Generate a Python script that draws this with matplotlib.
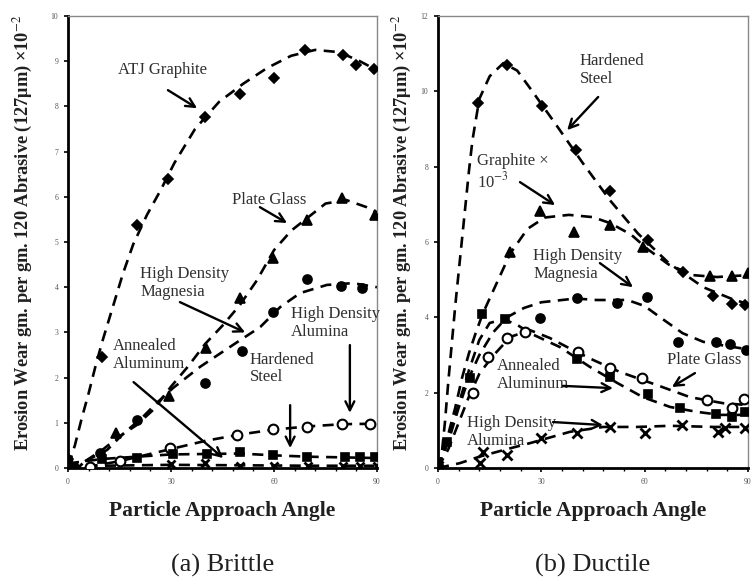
import matplotlib
matplotlib.use("Agg")
import matplotlib.pyplot as plt
from matplotlib.ticker import MultipleLocator

plt.rcParams['font.family'] = ['Liberation Serif', 'DejaVu Serif']
plt.rcParams['mathtext.fontset'] = 'stix'

# ---------------- (a) Brittle : markers ----------------
b_atj_x = [0, 10, 20, 29, 40, 50, 60, 69, 80, 84, 89]
b_atj_y = [0.2, 2.46, 5.38, 6.39, 7.77, 8.27, 8.62, 9.25, 9.14, 8.92, 8.82]
b_glass_x = [0.6, 14, 29.4, 40.3, 50.1, 59.7, 69.6, 79.8, 89.4]
b_glass_y = [0.13, 0.77, 1.6, 2.66, 3.76, 4.65, 5.49, 5.97, 5.6]
b_mag_x = [9.3, 20.1, 39.9, 50.7, 59.7, 69.6, 79.5, 85.6]
b_mag_y = [0.33, 1.06, 1.88, 2.59, 3.45, 4.18, 4.03, 3.98]
b_alu_x = [6.4, 15.1, 29.7, 49.2, 59.7, 69.6, 79.8, 88]
b_alu_y = [0.02, 0.15, 0.44, 0.73, 0.86, 0.91, 0.97, 0.97]
b_steel_x = [0, 10, 20, 30.6, 40.5, 50.1, 59.7, 69.6, 80.7, 85, 89.4]
b_steel_y = [0.15, 0.2, 0.22, 0.31, 0.31, 0.35, 0.29, 0.25, 0.25, 0.25, 0.25]
b_ann_x = [0, 3, 30, 40, 50, 60, 70, 80, 85, 90]
b_ann_y = [0.1, 0.02, 0.08, 0.1, 0.05, 0.05, 0.05, 0.05, 0.05, 0.05]

# ---------------- (a) Brittle : trend curves ----------------
bc_atj_x = [0, 2, 4, 6, 8, 10, 12, 14, 16, 19, 23, 27, 31, 37, 44, 51, 58, 65, 72, 79, 85, 90]
bc_atj_y = [0.05, 0.5, 1.1, 1.65, 2.25, 2.8, 3.3, 3.8, 4.3, 4.95, 5.6, 6.15, 6.75, 7.5, 8.1, 8.5, 8.85, 9.12, 9.25, 9.2, 9.0, 8.8]
bc_glass_x = [0, 5, 10, 15, 20, 25, 30, 35, 40, 45, 50, 55, 60, 65, 70, 75, 81, 87, 90]
bc_glass_y = [0, 0.15, 0.4, 0.7, 0.95, 1.3, 1.8, 2.25, 2.75, 3.15, 3.6, 4.15, 4.82, 5.25, 5.55, 5.85, 5.93, 5.77, 5.66]
bc_mag_x = [0, 5, 11.4, 16, 21.8, 26, 30.6, 38.5, 48, 56, 61.8, 67.6, 75.4, 83, 90]
bc_mag_y = [0, 0.15, 0.4, 0.75, 1.13, 1.45, 1.77, 2.24, 2.72, 3.12, 3.56, 3.87, 4.05, 4.09, 4.0]
bc_alu_x = [0, 6, 15, 30, 40, 50, 60, 70, 80, 90]
bc_alu_y = [0, 0.03, 0.15, 0.42, 0.6, 0.74, 0.85, 0.92, 0.97, 0.98]
bc_steel_x = [0, 10, 20, 30, 50, 60, 70, 90]
bc_steel_y = [0.1, 0.2, 0.25, 0.3, 0.32, 0.28, 0.25, 0.22]
bc_ann_x = [0, 10, 30, 50, 70, 90]
bc_ann_y = [0.05, 0.05, 0.07, 0.06, 0.05, 0.05]

# ---------------- (b) Ductile : markers ----------------
d_steel_x = [0, 11.6, 20, 30.2, 40, 50, 61, 71.1, 79.8, 85.4, 89]
d_steel_y = [0.05, 9.69, 10.7, 9.61, 8.44, 7.35, 6.05, 5.2, 4.57, 4.35, 4.33]
d_graph_x = [21, 29.6, 39.5, 50, 59.5, 79, 85.4, 90]
d_graph_y = [5.73, 6.82, 6.27, 6.45, 5.87, 5.1, 5.1, 5.18]
d_mag_x = [0, 29.6, 40.4, 51.9, 60.7, 69.7, 80.7, 84.8, 89.4]
d_mag_y = [0.08, 3.98, 4.51, 4.38, 4.54, 3.35, 3.35, 3.3, 3.13]
d_ann_x = [10.2, 14.5, 20, 25.3, 40.6, 50, 59.2, 78, 85.4, 88.8]
d_ann_y = [1.99, 2.95, 3.45, 3.62, 3.08, 2.65, 2.39, 1.8, 1.59, 1.83]
d_glass_x = [2.6, 9.3, 12.8, 19.5, 40.3, 50, 61, 70.3, 80.7, 85.4, 89.1]
d_glass_y = [0.7, 2.4, 4.1, 3.95, 2.9, 2.41, 1.96, 1.6, 1.43, 1.36, 1.49]
d_alu_x = [0, 12.2, 13, 20, 30, 40.4, 50, 60, 70.8, 81.3, 83.3, 89]
d_alu_y = [0.05, 0.13, 0.42, 0.35, 0.8, 0.93, 1.09, 0.93, 1.14, 0.96, 1.06, 1.06]

# ---------------- (b) Ductile : trend curves ----------------
dc_steel_x = [0, 1, 2, 3, 4, 5, 6, 7, 8, 9, 10, 12, 15, 19, 23, 27, 34, 42, 50, 58, 67, 77, 85, 90]
dc_steel_y = [0, 0.3, 1.2, 2.3, 3.3, 4.3, 5.2, 6.1, 7.0, 7.9, 8.7, 9.8, 10.4, 10.75, 10.55, 10.05, 9.15, 8.1, 7.1, 6.23, 5.44, 4.8, 4.5, 4.35]
dc_graph_x = [0, 3, 5, 7, 9, 11, 13, 15, 17, 21, 26, 31, 38, 45, 50, 56, 61, 67, 74, 81, 90]
dc_graph_y = [0, 0.9, 1.6, 2.4, 3.05, 3.6, 4.1, 4.5, 4.9, 5.7, 6.35, 6.65, 6.72, 6.66, 6.5, 6.2, 5.8, 5.4, 5.12, 5.07, 5.12]
dc_mag_x = [0, 3, 6, 9, 12, 16, 20, 25, 30, 40, 46, 55, 60, 64.5, 71, 77, 83, 90]
dc_mag_y = [0, 0.7, 1.6, 2.4, 3.0, 3.6, 4.0, 4.25, 4.4, 4.5, 4.46, 4.46, 4.3, 4.0, 3.58, 3.35, 3.25, 3.15]
dc_ann_x = [0, 3, 6, 9, 12, 15.7, 21, 26.7, 32.5, 37.5, 45, 52.8, 63.6, 73.2, 82.8, 90]
dc_ann_y = [0, 0.5, 1.2, 1.9, 2.5, 2.95, 3.48, 3.66, 3.45, 3.21, 2.87, 2.55, 2.2, 1.88, 1.72, 1.67]
dc_glass_x = [0, 3, 6, 9, 12, 15, 19, 23, 26.7, 35.4, 44, 52, 59.5, 67.4, 75.2, 82, 90]
dc_glass_y = [0, 0.8, 1.7, 2.6, 3.4, 3.85, 3.95, 3.8, 3.58, 3.21, 2.69, 2.26, 1.88, 1.62, 1.49, 1.41, 1.41]
dc_alu_x = [0, 6.4, 12, 20, 26.7, 38.3, 48, 57.8, 67.4, 80, 90]
dc_alu_y = [0, 0.13, 0.3, 0.5, 0.66, 0.96, 1.09, 1.09, 1.12, 1.09, 1.09]

xticks = [0, 30, 60, 90]
ylabel = "Erosion Wear gm. per gm. 120 Abrasive (127\u03bcm) \u00d710$^{-2}$"
xlabel = "Particle Approach Angle"

fig = plt.figure(figsize=(7.51, 5.81), dpi=100)
ax1 = fig.add_axes([68/751, 113/581, 309/751, 452/581])
ax2 = fig.add_axes([438/751, 113/581, 310/751, 452/581])

DASH = (0, (4.2, 2.8))
LW = 1.9
txt_c = '#303030'

def curve(ax, x, y):
    ax.plot(x, y, color='black', lw=LW, linestyle=DASH, zorder=2)

def pts(ax, x, y, m, ms, open_=False, mew=1.2):
    ax.plot(x, y, linestyle='none', marker=m, ms=ms, color='black',
            mfc='white' if open_ else 'black', mec='black', mew=mew, zorder=3)

# Brittle
curve(ax1, bc_atj_x, bc_atj_y)
curve(ax1, bc_glass_x, bc_glass_y)
curve(ax1, bc_mag_x, bc_mag_y)
curve(ax1, bc_alu_x, bc_alu_y)
curve(ax1, bc_steel_x, bc_steel_y)
curve(ax1, bc_ann_x, bc_ann_y)
pts(ax1, b_atj_x, b_atj_y, 'D', 5)
pts(ax1, b_glass_x, b_glass_y, '^', 6.5)
pts(ax1, b_mag_x, b_mag_y, 'o', 6.5)
pts(ax1, b_alu_x, b_alu_y, 'o', 7, open_=True, mew=1.5)
pts(ax1, b_steel_x, b_steel_y, 's', 5.5)
pts(ax1, b_ann_x, b_ann_y, 'x', 6, mew=2)

# Ductile
curve(ax2, dc_steel_x, dc_steel_y)
curve(ax2, dc_graph_x, dc_graph_y)
curve(ax2, dc_mag_x, dc_mag_y)
curve(ax2, dc_ann_x, dc_ann_y)
curve(ax2, dc_glass_x, dc_glass_y)
curve(ax2, dc_alu_x, dc_alu_y)
pts(ax2, d_steel_x, d_steel_y, 'D', 5)
pts(ax2, d_graph_x, d_graph_y, '^', 6.5)
pts(ax2, d_mag_x, d_mag_y, 'o', 6.5)
pts(ax2, d_ann_x, d_ann_y, 'o', 7, open_=True, mew=1.5)
pts(ax2, d_glass_x, d_glass_y, 's', 5.5)
pts(ax2, d_alu_x, d_alu_y, 'x', 6.5, mew=2)

for ax, ymax, ystep in [(ax1, 10, 1), (ax2, 12, 2)]:
    ax.set_xlim(0, 90)
    ax.set_ylim(0, ymax)
    ax.set_xticks(xticks)
    ax.xaxis.set_minor_locator(MultipleLocator(6))
    ax.yaxis.set_major_locator(MultipleLocator(ystep))
    ax.tick_params(axis='both', which='major', labelsize=5.5, labelcolor='#555555',
                   length=3, width=1.2, direction='out', pad=4)
    ax.tick_params(axis='x', which='minor', length=2, width=1)
    for s in ['left', 'bottom']:
        ax.spines[s].set_linewidth(2)
        ax.spines[s].set_color('black')
    for s in ['top', 'right']:
        ax.spines[s].set_linewidth(1)
        ax.spines[s].set_color('#888888')
    ax.set_ylabel(ylabel, fontsize=13.2, fontweight='bold', color='#202020')
    ax.set_xlabel(xlabel, fontsize=15.5, fontweight='bold', color='#202020')
    ax.xaxis.set_label_coords(0.5, -0.072)

ax1.yaxis.set_label_coords(-0.107, 0.52)
ax2.yaxis.set_label_coords(-0.077, 0.52)

ax1.text(0.5, -0.215, "(a) Brittle", transform=ax1.transAxes, fontsize=19,
         ha='center', va='center', color='#202020')
ax2.text(0.5, -0.215, "(b) Ductile", transform=ax2.transAxes, fontsize=19,
         ha='center', va='center', color='#202020')

ARW = dict(arrowstyle='->', lw=1.7, color='black', mutation_scale=16, shrinkA=0, shrinkB=0)
FS = 12

def label(ax, s, xy, ha='left'):
    ax.text(xy[0], xy[1], s, fontsize=FS, color=txt_c, ha=ha, va='center', linespacing=1.15, zorder=5)

def arrow(ax, start, end):
    ax.annotate('', xy=end, xytext=start, arrowprops=ARW, zorder=5)

# Brittle annotations
label(ax1, "ATJ Graphite", (14.6, 8.8))
arrow(ax1, (29.1, 8.36), (37.6, 7.96))
label(ax1, "Plate Glass", (47.8, 5.93))
arrow(ax1, (55.9, 5.77), (63.8, 5.42))
label(ax1, "High Density\nMagnesia", (21, 4.1))
arrow(ax1, (32.6, 3.67), (51.6, 3.0))
label(ax1, "High Density\nAlumina", (65.0, 3.2))
arrow(ax1, (82.1, 2.72), (82.1, 1.22))
label(ax1, "Hardened\nSteel", (53, 2.2))
arrow(ax1, (64.7, 1.39), (64.7, 0.44))
label(ax1, "Annealed\nAluminum", (13.1, 2.5))
arrow(ax1, (19.1, 1.9), (45.2, 0.22))

# Ductile annotations
label(ax2, "Hardened\nSteel", (41.2, 10.57))
arrow(ax2, (46.5, 9.85), (37.5, 8.97))
label(ax2, "Graphite \u00d7\n10$^{-3}$", (11.3, 7.86))
arrow(ax2, (23.8, 7.59), (34, 6.98))
label(ax2, "High Density\nMagnesia", (27.6, 5.39))
arrow(ax2, (47, 5.44), (56.6, 4.8))
label(ax2, "Annealed\nAluminum", (17.1, 2.47))
arrow(ax2, (36.3, 2.18), (50.8, 2.12))
label(ax2, "Plate Glass", (66.5, 2.87))
arrow(ax2, (74.6, 2.52), (67.9, 2.15))
label(ax2, "High Density\nAlumina", (8.4, 0.96))
arrow(ax2, (33.4, 1.22), (47.9, 1.14))

fig.savefig("out.png", dpi=100)
